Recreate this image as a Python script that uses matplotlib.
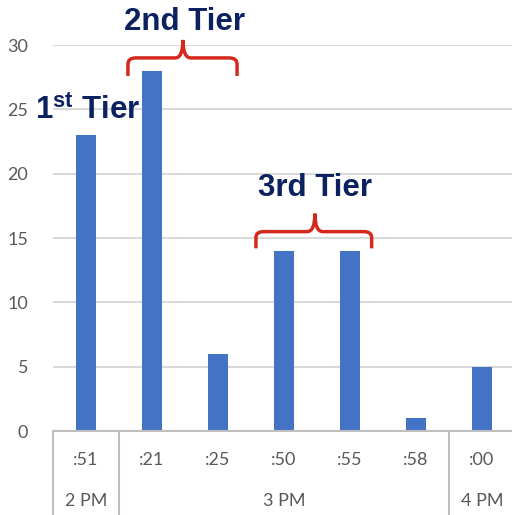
import matplotlib.pyplot as plt
from matplotlib.path import Path
from matplotlib.patches import PathPatch

plt.rcParams['mathtext.fontset'] = 'custom'
plt.rcParams['mathtext.bf'] = 'Liberation Sans:bold'
plt.rcParams['mathtext.rm'] = 'Liberation Sans'

# data
minutes = [':51', ':21', ':25', ':50', ':55', ':58', ':00']
counts = [23, 28, 6, 14, 14, 1, 5]
hours = ['2 PM', '3 PM', '4 PM']
hour_spans = [(0, 0), (1, 5), (6, 6)]  # first/last bar index in each hour

bar_color = '#4472C4'
grid_color = '#d9d9d9'
tick_color = '#595959'
navy = '#0B2160'
red = '#D42A1E'

fig = plt.figure(figsize=(5.12, 5.15), dpi=100)
ax = fig.add_axes([0.1035, 0.163, 0.902, 0.7495])

x = list(range(len(counts)))
ax.bar(x, counts, width=0.3, color=bar_color, zorder=3)

ax.set_xlim(-0.5, len(counts) - 0.5)
ax.set_ylim(0, 30)
ax.set_yticks(range(0, 31, 5))
ax.yaxis.grid(True, color=grid_color, linewidth=1.5)
ax.set_axisbelow(True)
for s in ax.spines.values():
    s.set_visible(False)
ax.tick_params(axis='y', length=0, pad=18, labelsize=13, labelcolor=tick_color)
for lab in ax.get_yticklabels():
    lab.set_fontfamily('Lato')
ax.set_xticks([])

# category axis with two levels
ax.plot([-0.5, len(counts) - 0.5], [0, 0], color='#bfbfbf', lw=1.5, clip_on=False, zorder=4)
for i, m in enumerate(minutes):
    ax.text(i, -2.25, m, ha='center', va='center', fontsize=13,
            color=tick_color, family='Lato', clip_on=False)
for h, (a, b) in zip(hours, hour_spans):
    ax.text((a + b) / 2, -5.4, h, ha='center', va='center', fontsize=13,
            color=tick_color, family='Lato', clip_on=False)
for sep in [-0.5, 0.5, 5.5]:
    ax.plot([sep, sep], [0, -6.6], color='#bfbfbf', lw=1.5, clip_on=False)


def brace(x0, x1, xm, y_end, y_line, y_tip):
    # curly bracket: left arm, centre tip, right arm
    r = 0.12
    ry = (y_line - y_end) * 0.35
    verts = [(x0, y_end), (x0, y_line - ry), (x0, y_line), (x0 + r, y_line),
             (xm - r, y_line), (xm, y_line), (xm, y_tip),
             (xm, y_tip), (xm, y_line), (xm + r, y_line),
             (x1 - r, y_line), (x1, y_line), (x1, y_line - ry), (x1, y_end)]
    codes = [Path.MOVETO, Path.LINETO, Path.CURVE3, Path.CURVE3,
             Path.LINETO, Path.CURVE3, Path.CURVE3,
             Path.MOVETO, Path.CURVE3, Path.CURVE3,
             Path.LINETO, Path.CURVE3, Path.CURVE3, Path.LINETO]
    p = PathPatch(Path(verts, codes), fill=False, edgecolor=red, lw=2.5,
                  clip_on=False, zorder=5)
    ax.add_patch(p)


brace(0.636, 2.29, 1.47, 27.6, 29.0, 30.4)
brace(2.576, 4.33, 3.47, 14.2, 15.5, 16.9)

tier_kw = dict(fontsize=22.5, fontweight='bold', color=navy, family='Liberation Sans',
               ha='center', va='center', clip_on=False)
ax.text(1.5, 31.8, '2nd Tier', **tier_kw)
ax.text(3.47, 18.9, '3rd Tier', **tier_kw)
ax.text(0.02, 24.9, r'1$^{\mathbf{st}}$ Tier', **tier_kw)

fig.savefig('out.png', dpi=100)
